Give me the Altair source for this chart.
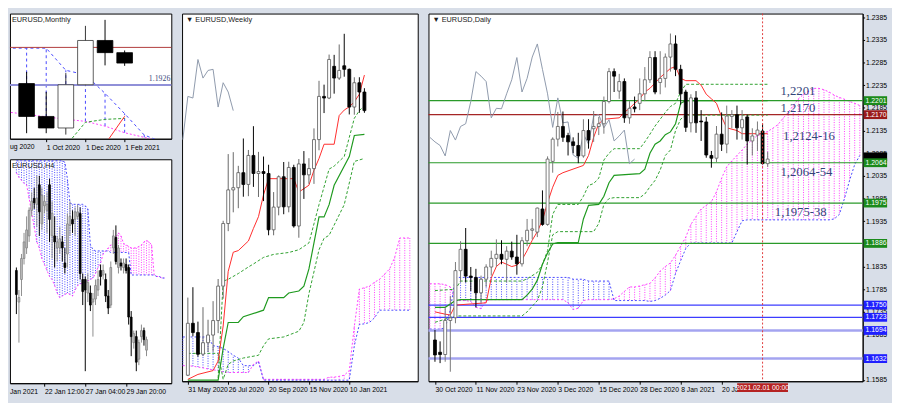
import json
import numpy as np
import pandas as pd
import altair as alt

FONT = "Liberation Sans"
SERIF = "Liberation Serif"
PINK = "#ff3cff"
BLUE = "#4646ff"
RED = "#ff2a2a"
GREEN = "#1f9a1f"
DGREEN = "#2ea02e"
CHIKOU = "#8d99ab"

# ---------------- DAILY (30 Oct 2020 = 0 ... 2 Feb 2021 = 65) ----------------
d_open = [1.1673, 1.1646, 1.1641, 1.1716, 1.1722, 1.1826, 1.1873, 1.1814, 1.1811, 1.1777,
          1.1807, 1.1834, 1.1853, 1.1862, 1.1851, 1.1869, 1.1856, 1.1841, 1.1892, 1.1915,
          1.1911, 1.1962, 1.1928, 1.2067, 1.2116, 1.2144, 1.2124, 1.2110, 1.2102, 1.2079,
          1.2135, 1.2139, 1.2144, 1.2150, 1.2199, 1.2265, 1.2222, 1.2243, 1.2163, 1.2187,
          1.2195, 1.2216, 1.2247, 1.2296, 1.2241, 1.2250, 1.2297, 1.2326, 1.2270, 1.2220,
          1.2152, 1.2207, 1.2156, 1.2154, 1.2080, 1.2074, 1.2127, 1.2105, 1.2166, 1.2170,
          1.2141, 1.2165, 1.2112, 1.2125, 1.2134, 1.2062]
d_high = [1.1695, 1.1670, 1.1745, 1.1770, 1.1845, 1.1891, 1.1920, 1.1834, 1.1830, 1.1815,
          1.1840, 1.1870, 1.1895, 1.1893, 1.1880, 1.1890, 1.1905, 1.1900, 1.1940, 1.1940,
          1.1965, 1.2003, 1.2078, 1.2120, 1.2176, 1.2177, 1.2130, 1.2120, 1.2130, 1.2160,
          1.2160, 1.2178, 1.2165, 1.2210, 1.2273, 1.2272, 1.2260, 1.2250, 1.2200, 1.2210,
          1.2250, 1.2275, 1.2310, 1.2310, 1.2310, 1.2305, 1.2349, 1.2345, 1.2280, 1.2225,
          1.2215, 1.2222, 1.2180, 1.2165, 1.2090, 1.2145, 1.2175, 1.2190, 1.2180, 1.2190,
          1.2180, 1.2170, 1.2140, 1.2155, 1.2150, 1.2088]
d_low = [1.1625, 1.1622, 1.1625, 1.1603, 1.1710, 1.1800, 1.1800, 1.1781, 1.1745, 1.1755,
         1.1790, 1.1815, 1.1835, 1.1840, 1.1800, 1.1850, 1.1817, 1.1835, 1.1880, 1.1895,
         1.1900, 1.1925, 1.1925, 1.2042, 1.2100, 1.2110, 1.2080, 1.2085, 1.2063, 1.2075,
         1.2095, 1.2110, 1.2125, 1.2128, 1.2195, 1.2220, 1.2205, 1.2152, 1.2150, 1.2175,
         1.2180, 1.2200, 1.2240, 1.2215, 1.2215, 1.2230, 1.2265, 1.2255, 1.2192, 1.2132,
         1.2131, 1.2130, 1.2112, 1.2075, 1.2053, 1.2065, 1.2090, 1.2085, 1.2140, 1.2115,
         1.2115, 1.2060, 1.2080, 1.2090, 1.2060, 1.2055]
d_close = [1.1640, 1.1641, 1.1716, 1.1722, 1.1826, 1.1873, 1.1814, 1.1811, 1.1777, 1.1807,
           1.1834, 1.1853, 1.1862, 1.1851, 1.1869, 1.1856, 1.1841, 1.1892, 1.1915, 1.1918,
           1.1964, 1.1928, 1.2072, 1.2116, 1.2144, 1.2120, 1.2110, 1.2102, 1.2079, 1.2135,
           1.2114, 1.2144, 1.2150, 1.2199, 1.2265, 1.2255, 1.2243, 1.2163, 1.2184, 1.2183,
           1.2216, 1.2247, 1.2296, 1.2220, 1.2250, 1.2297, 1.2326, 1.2270, 1.2216, 1.2142,
           1.2207, 1.2152, 1.2154, 1.2081, 1.2074, 1.2127, 1.2105, 1.2167, 1.2170, 1.2141,
           1.2159, 1.2112, 1.2123, 1.2136, 1.2062, 1.2072]
d_tick_idx = [0, 8, 16, 24, 32, 40, 48, 56]
d_tick_lbl = ["30 Oct 2020", "11 Nov 2020", "23 Nov 2020", "3 Dec 2020", "15 Dec 2020",
              "28 Dec 2020", "8 Jan 2021", "20 Jan 2021"]
d_price_ticks = [1.1585, 1.1685, 1.1735, 1.1785, 1.1835, 1.1935, 1.1985,
                 1.2035, 1.2085, 1.2135, 1.2185, 1.2235, 1.2285, 1.2335, 1.2385]
d_tenkan_i = [0, 2, 3, 4, 10, 11, 12, 13, 15, 16, 17, 18, 19, 20, 21, 22, 23, 24, 25, 29,
              30, 31, 32, 33, 36, 37, 38, 39, 40, 41, 42, 43, 44, 45, 46, 47, 48, 49, 51, 52,
              53, 54, 55, 56, 57, 59, 60, 65]
d_tenkan_v = [1.1735, 1.1730, 1.1728, 1.1750, 1.1755, 1.1810, 1.1835, 1.1845, 1.1835, 1.1838,
              1.1850, 1.1870, 1.1893, 1.1912, 1.1937, 1.1976, 1.2010, 1.2036, 1.2042, 1.2058,
              1.2080, 1.2120, 1.2150, 1.2160, 1.2163, 1.2175, 1.2184, 1.2195, 1.2205, 1.2220,
              1.2228, 1.2240, 1.2252, 1.2262, 1.2272, 1.2276, 1.2250, 1.2245, 1.2245, 1.2235,
              1.2215, 1.2205, 1.2195, 1.2165, 1.2141, 1.2135, 1.2128, 1.2128]
d_kijun_i = [0, 2, 4, 5, 17, 18, 19, 20, 21, 22, 23, 24, 28, 29, 30, 32, 33, 34, 35, 40,
             41, 42, 43, 44, 45, 46, 47, 48, 49, 65]
d_kijun_v = [1.1745, 1.1745, 1.1760, 1.1762, 1.1762, 1.1772, 1.1785, 1.1805, 1.1840, 1.1865,
             1.1885, 1.1888, 1.1888, 1.1940, 1.1970, 1.1972, 1.1990, 1.2020, 1.2036, 1.2040,
             1.2050, 1.2085, 1.2105, 1.2112, 1.2126, 1.2132, 1.2150, 1.2195, 1.2201, 1.2201]
d_dash1_i = [0, 4, 5, 17, 18, 20, 21, 22, 23, 24, 28, 29, 30, 31, 32, 33, 34, 35, 40, 41,
             42, 43, 44, 45, 46, 47, 48, 49, 65]
d_dash1_v = [1.1782, 1.1785, 1.1803, 1.1803, 1.1808, 1.1822, 1.1840, 1.1870, 1.1950, 1.1972,
             1.1972, 1.1990, 1.2014, 1.2018, 1.2030, 1.2070, 1.2085, 1.2095, 1.2095, 1.2110,
             1.2127, 1.2145, 1.2160, 1.2175, 1.2188, 1.2195, 1.2220, 1.2237, 1.2237]
d_dash2_i = [0, 4, 17, 18, 20, 21, 22, 23, 24, 31, 32, 33, 34, 35, 40, 41, 42, 43, 44, 45,
             46, 47, 48, 49, 65]
d_dash2_v = [1.1712, 1.1726, 1.1726, 1.1735, 1.1760, 1.1790, 1.1845, 1.1905, 1.1912, 1.1912,
             1.1930, 1.1972, 1.1985, 1.1987, 1.1987, 1.1995, 1.2011, 1.2025, 1.2048, 1.2080,
             1.2092, 1.2135, 1.2160, 1.2169, 1.2169]
# cloud, one value per bar from index -1 to 83
d_span_a = [1.1797, 1.1797, 1.1797, 1.1795, 1.1790,
            1.1760, 1.1760, 1.1760, 1.1758, 1.1745, 1.1742, 1.1760,
            1.1762, 1.1762, 1.1762, 1.1762, 1.1762, 1.1762, 1.1762, 1.1762, 1.1762, 1.1762,
            1.1762, 1.1762, 1.1762, 1.1762, 1.1762,
            1.1755, 1.1740, 1.1743, 1.1760,
            1.1762, 1.1762, 1.1762, 1.1762, 1.1762,
            1.1764, 1.1770, 1.1780, 1.1790, 1.1790, 1.1792, 1.1795, 1.1798, 1.1810,
            1.1825, 1.1835, 1.1843, 1.1860, 1.1880, 1.1900, 1.1928, 1.1945, 1.1962, 1.1970,
            1.1978, 1.2000, 1.2030, 1.2055, 1.2068, 1.2080, 1.2092, 1.2105, 1.2115, 1.2124,
            1.2128, 1.2133, 1.2140, 1.2148, 1.2162, 1.2175, 1.2190, 1.2205, 1.2215, 1.2222,
            1.2228, 1.2228, 1.2225, 1.2220, 1.2213, 1.2208, 1.2204, 1.2199, 1.2195, 1.2190]
d_span_b = [1.1697, 1.1697, 1.1697, 1.1700, 1.1740,
            1.1811, 1.1811, 1.1811, 1.1811, 1.1811, 1.1811, 1.1811,
            1.1811, 1.1811, 1.1811, 1.1811, 1.1811, 1.1811, 1.1811, 1.1811, 1.1811, 1.1811,
            1.1811, 1.1811, 1.1811, 1.1811, 1.1811,
            1.1811, 1.1807, 1.1807, 1.1807,
            1.1803, 1.1803, 1.1803, 1.1803, 1.1803,
            1.1760, 1.1760, 1.1760, 1.1760, 1.1760, 1.1760, 1.1760, 1.1758, 1.1760,
            1.1765, 1.1772, 1.1782, 1.1820, 1.1848, 1.1875, 1.1887, 1.1887, 1.1887, 1.1887,
            1.1887, 1.1887, 1.1887, 1.1887, 1.1887, 1.1912, 1.1936, 1.1938, 1.1938, 1.1938,
            1.1938, 1.1938, 1.1938, 1.1938, 1.1938, 1.1938, 1.1938, 1.1938, 1.1938, 1.1938,
            1.1938, 1.1938, 1.1938, 1.1938, 1.1940, 1.1950, 1.1985, 1.2025, 1.2060, 1.2080]
d_green_levels = [1.2201, 1.2064, 1.1975, 1.1886]
d_red_levels = [1.2170]
d_blue_levels = [1.1750, 1.1723]
d_lav_levels = [1.1694, 1.1632]
d_price_now = [1.2077]
d_cursor_idx = 64
d_cursor_lbl = "2021.02.01 00:00"
d_note_txt = ["1,2201", "1,2170", "1,2124-16", "1,2064-54", "1,1975-38"]
d_note_i = [67.5, 67.5, 68.0, 67.5, 66.4]
d_note_v = [1.2222, 1.2184, 1.2122, 1.2044, 1.1955]

# ---------------- WEEKLY (31 May 2020 = 0 ... 31 Jan 2021 = 35) ----------------
w_open = [1.1100, 1.1290, 1.1256, 1.1177, 1.1219, 1.1247, 1.1300, 1.1426, 1.1655, 1.1778,
          1.1786, 1.1841, 1.1798, 1.1904, 1.1838, 1.1845, 1.1838, 1.1632, 1.1715, 1.1826,
          1.1716, 1.1860, 1.1646, 1.1873, 1.1833, 1.1856, 1.1962, 1.2120, 1.2114, 1.2230,
          1.2187, 1.2232, 1.2219, 1.2081, 1.2170, 1.2136]
w_high = [1.1384, 1.1422, 1.1296, 1.1349, 1.1303, 1.1371, 1.1452, 1.1665, 1.1909, 1.1916,
          1.1866, 1.1966, 1.1924, 1.2011, 1.1917, 1.1900, 1.1870, 1.1770, 1.1831, 1.1880,
          1.1881, 1.1870, 1.1891, 1.1920, 1.1894, 1.2003, 1.2177, 1.2163, 1.2273, 1.2272,
          1.2310, 1.2349, 1.2222, 1.2190, 1.2190, 1.2150]
w_low = [1.1097, 1.1242, 1.1168, 1.1170, 1.1185, 1.1186, 1.1254, 1.1380, 1.1627, 1.1696,
         1.1711, 1.1753, 1.1755, 1.1789, 1.1752, 1.1737, 1.1612, 1.1612, 1.1685, 1.1689,
         1.1696, 1.1640, 1.1603, 1.1745, 1.1800, 1.1800, 1.1923, 1.2059, 1.2110, 1.2130,
         1.2180, 1.2192, 1.2054, 1.2053, 1.2060, 1.2060]
w_close = [1.1290, 1.1256, 1.1177, 1.1219, 1.1247, 1.1300, 1.1426, 1.1655, 1.1778, 1.1786,
           1.1841, 1.1798, 1.1904, 1.1838, 1.1845, 1.1838, 1.1632, 1.1715, 1.1826, 1.1716,
           1.1860, 1.1646, 1.1873, 1.1833, 1.1856, 1.1962, 1.2120, 1.2114, 1.2255, 1.2187,
           1.2215, 1.2219, 1.2081, 1.2170, 1.2136, 1.2068]
w_tick_idx = [0, 8, 16, 24, 32]
w_tick_lbl = ["31 May 2020", "26 Jul 2020", "20 Sep 2020", "15 Nov 2020", "10 Jan 2021"]
w_tenkan_i = [0, 2, 5, 6, 7, 8, 9, 10, 12, 13, 14, 15, 16, 21, 22, 24, 25, 26, 27, 29,
              30, 31, 32, 33, 34, 35]
w_tenkan_v = [1.1085, 1.1103, 1.1117, 1.1152, 1.1280, 1.1480, 1.1550, 1.1556, 1.1591, 1.1637,
              1.1680, 1.1760, 1.1819, 1.1819, 1.1770, 1.1795, 1.1850, 1.1893, 1.1945, 1.1945,
              1.2050, 1.2070, 1.2082, 1.2100, 1.2128, 1.2198]
w_kijun_i = [0, 6, 7, 8, 10, 11, 15, 16, 19, 20, 22, 23, 24, 25, 26, 27, 28, 29, 32, 33, 35]
w_kijun_v = [1.1082, 1.1082, 1.1198, 1.1293, 1.1293, 1.1314, 1.1338, 1.1384, 1.1384, 1.1401,
             1.1408, 1.1426, 1.1489, 1.1584, 1.1679, 1.1679, 1.1724, 1.1795, 1.1900, 1.1977,
             1.1981]
w_dash1_i = [6, 7, 8, 10, 12, 13, 15, 17, 20, 22, 24, 25, 26, 28, 29, 31, 32, 33, 34, 35]
w_dash1_v = [1.1090, 1.1444, 1.1451, 1.1472, 1.1496, 1.1507, 1.1531, 1.1542, 1.1549, 1.1559,
             1.1584, 1.1654, 1.1724, 1.1854, 1.1865, 1.1900, 1.1970, 1.2040, 1.2068, 1.2086]
w_dash2_i = [0, 6, 7, 8, 9, 11, 14, 15, 16, 19, 22, 23, 24, 26, 27, 28, 31, 33, 35]
w_dash2_v = [1.1180, 1.1180, 1.1085, 1.1140, 1.1152, 1.1163, 1.1173, 1.1208, 1.1233, 1.1240,
             1.1261, 1.1293, 1.1398, 1.1559, 1.1601, 1.1612, 1.1724, 1.1882, 1.1893]
# cloud, one value per bar from index -1 to 44
w_span_a = [1.1135, 1.1135, 1.1133, 1.1130, 1.1127, 1.1123, 1.1120, 1.1117, 1.1112, 1.1110,
            1.1110, 1.1110, 1.1110, 1.1110, 1.1140, 1.1152, 1.1085, 1.1085, 1.1085, 1.1085,
            1.1085, 1.1085, 1.1085, 1.1085, 1.1085, 1.1085, 1.1085, 1.1085, 1.1085, 1.1093,
            1.1093, 1.1096, 1.1100, 1.1117, 1.1279, 1.1415, 1.1420, 1.1426, 1.1440, 1.1451,
            1.1470, 1.1489, 1.1531, 1.1602, 1.1602, 1.1602]
w_span_b = [1.1240, 1.1240, 1.1240, 1.1240, 1.1240, 1.1240, 1.1208, 1.1205, 1.1198, 1.1187,
            1.1173, 1.1163, 1.1135, 1.1135, 1.1135, 1.1150, 1.1082, 1.1082, 1.1082, 1.1082,
            1.1082, 1.1082, 1.1082, 1.1082, 1.1082, 1.1082, 1.1082, 1.1082, 1.1082, 1.1082,
            1.1082, 1.1082, 1.1082, 1.1082, 1.1208, 1.1286, 1.1288, 1.1293, 1.1310, 1.1338,
            1.1338, 1.1338, 1.1338, 1.1338, 1.1338, 1.1338]

# ---------------- MONTHLY (Sep 2020 = 0 ... Feb 2021 = 5) ----------------
m_open = [1.1935, 1.1721, 1.1646, 1.1927, 1.2215, 1.2136]
m_high = [1.2011, 1.1881, 1.2003, 1.2310, 1.2349, 1.2150]
m_low = [1.1612, 1.1612, 1.1603, 1.1923, 1.2053, 1.2050]
m_close = [1.1721, 1.1646, 1.1927, 1.2215, 1.2136, 1.2068]
m_tick_idx = [1, 3, 5]
m_tick_lbl = ["1 Oct 2020", "1 Dec 2020", "1 Feb 2021"]
m_span_a = [1.1750, 1.1735, 1.1718, 1.1703, 1.1689, 1.1658, 1.1615, 1.1585, 1.1550]  # -1..7
m_span_b = [1.2165, 1.2165, 1.2165, 1.2021, 1.1992, 1.1871, 1.1739, 1.1600, 1.1550]  # -1..7
m_dash_i = [2, 3, 4, 5]
m_dash_v = [1.1530, 1.1683, 1.1702, 1.1708]
m_tenkan_i = [4, 5]
m_tenkan_v = [1.1540, 1.1722]
m_red_level = [1.2170]
m_slate_level = [1.1926]

# ---------------- H4 (bars 0 ... 51, cloud to 58) ----------------
h_open = [1.2125, 1.2104, 1.2119, 1.2133, 1.2140, 1.2148, 1.2165, 1.2173, 1.2169, 1.2182,
          1.2156, 1.2168, 1.2165, 1.2182, 1.2148, 1.2148, 1.2140, 1.2140, 1.2144, 1.2130,
          1.2136, 1.2155, 1.2159, 1.2159, 1.2161, 1.2163, 1.2119, 1.2119, 1.2110, 1.2110,
          1.2104, 1.2106, 1.2112, 1.2125, 1.2122, 1.2119, 1.2108, 1.2102, 1.2140, 1.2147,
          1.2127, 1.2130, 1.2127, 1.2129, 1.2127, 1.2094, 1.2077, 1.2081, 1.2066, 1.2081,
          1.2085, 1.2072]
h_high = [1.2127, 1.2112, 1.2136, 1.2150, 1.2161, 1.2167, 1.2177, 1.2180, 1.2188, 1.2188,
          1.2180, 1.2175, 1.2177, 1.2186, 1.2171, 1.2161, 1.2148, 1.2154, 1.2148, 1.2140,
          1.2163, 1.2171, 1.2165, 1.2167, 1.2169, 1.2167, 1.2123, 1.2121, 1.2123, 1.2115,
          1.2110, 1.2119, 1.2125, 1.2129, 1.2129, 1.2123, 1.2112, 1.2131, 1.2152, 1.2155,
          1.2142, 1.2133, 1.2133, 1.2133, 1.2129, 1.2098, 1.2085, 1.2085, 1.2079, 1.2089,
          1.2087, 1.2081]
h_low = [1.2096, 1.2077, 1.2108, 1.2129, 1.2136, 1.2144, 1.2161, 1.2166, 1.2154, 1.2148,
         1.2152, 1.2163, 1.2150, 1.2144, 1.2133, 1.2127, 1.2131, 1.2136, 1.2131, 1.2123,
         1.2127, 1.2148, 1.2150, 1.2148, 1.2159, 1.2119, 1.2102, 1.2058, 1.2104, 1.2098,
         1.2081, 1.2102, 1.2108, 1.2115, 1.2119, 1.2104, 1.2096, 1.2100, 1.2136, 1.2129,
         1.2123, 1.2125, 1.2123, 1.2123, 1.2089, 1.2068, 1.2073, 1.2058, 1.2062, 1.2077,
         1.2075, 1.2068]
h_close = [1.2109, 1.2107, 1.2133, 1.2144, 1.2152, 1.2165, 1.2171, 1.2170, 1.2173, 1.2164,
           1.2175, 1.2171, 1.2169, 1.2159, 1.2163, 1.2144, 1.2144, 1.2146, 1.2140, 1.2127,
           1.2156, 1.2161, 1.2156, 1.2164, 1.2164, 1.2123, 1.2111, 1.2112, 1.2117, 1.2102,
           1.2106, 1.2115, 1.2119, 1.2121, 1.2125, 1.2108, 1.2100, 1.2127, 1.2148, 1.2131,
           1.2140, 1.2128, 1.2130, 1.2125, 1.2094, 1.2081, 1.2083, 1.2064, 1.2077, 1.2085,
           1.2079, 1.2079]
h_tick_idx = [11, 27, 43]
h_tick_lbl = ["22 Jan 12:00", "27 Jan 04:00", "29 Jan 20:00"]
h_span_a = [1.2190, 1.2187, 1.2185, 1.2183, 1.2182, 1.2173, 1.2163, 1.2154, 1.2144, 1.2140,
            1.2133, 1.2129, 1.2125, 1.2121, 1.2119, 1.2115, 1.2110, 1.2107, 1.2108, 1.2109,
            1.2110, 1.2109, 1.2108, 1.2112, 1.2115, 1.2116, 1.2117, 1.2117, 1.2118, 1.2119,
            1.2120, 1.2123, 1.2127, 1.2130, 1.2136, 1.2138, 1.2140, 1.2142, 1.2144, 1.2147,
            1.2150, 1.2148, 1.2143, 1.2142, 1.2141, 1.2140, 1.2140, 1.2140, 1.2141, 1.2142,
            1.2144, 1.2145, 1.2144, 1.2142, 1.2122, 1.2121, 1.2121, 1.2120, 1.2120]
h_span_b = [1.2198, 1.2198, 1.2198, 1.2198, 1.2198, 1.2198, 1.2198, 1.2198, 1.2198, 1.2198,
            1.2198, 1.2198, 1.2198, 1.2198, 1.2198, 1.2198, 1.2198, 1.2198, 1.2198, 1.2197,
            1.2186, 1.2170, 1.2169, 1.2169, 1.2169, 1.2169, 1.2169, 1.2168, 1.2166, 1.2142,
            1.2139, 1.2138, 1.2138, 1.2138, 1.2138, 1.2138, 1.2138, 1.2137, 1.2137, 1.2137,
            1.2137, 1.2137, 1.2137, 1.2137, 1.2137, 1.2122, 1.2122, 1.2122, 1.2122, 1.2122,
            1.2122, 1.2122, 1.2122, 1.2122, 1.2122, 1.2121, 1.2121, 1.2120, 1.2120]

# ---------------- layout ----------------
W1, HM, HH = 165, 128, 229
W2, W3, H = 241, 444, 376


def xaxis(vals, labels):
    expr = f"{json.dumps(labels)}[indexof({json.dumps(vals)}, datum.value)]"
    return alt.Axis(values=vals, labelExpr=expr, title=None, labelAlign="left",
                    labelBaseline="top", labelPadding=2, tickSize=3, labelFlush=False,
                    labelOverlap=False, grid=False)


def scales(xdom, ydom, xax, yax=None):
    def X(f):
        return alt.X(f"{f}:Q", scale=alt.Scale(domain=xdom, nice=False, zero=False), axis=xax)

    def Y(f):
        return alt.Y(f"{f}:Q", scale=alt.Scale(domain=ydom, nice=False, zero=False), axis=yax)
    return X, Y


def candles(o, h, l, c, X, Y, size, bull_fill, bull_stroke, bull_wick):
    df = pd.DataFrame({"i": np.arange(len(o)), "o": o, "h": h, "l": l, "c": c})
    up = df["c"] >= df["o"]
    df["fc"] = np.where(up, bull_fill, "#000000")
    df["sc"] = np.where(up, bull_stroke, "#000000")
    df["wc"] = np.where(up, bull_wick, "#000000")
    wick = alt.Chart(df).mark_rule(strokeWidth=1, clip=True).encode(
        x=X("i"), y=Y("l"), y2=alt.Y2("h"), color=alt.Color("wc:N", scale=None))
    body = alt.Chart(df).mark_bar(size=size, orient="vertical", strokeWidth=0.8, clip=True).encode(
        x=X("i"), y=Y("o"), y2=alt.Y2("c"),
        fill=alt.Fill("fc:N", scale=None), stroke=alt.Stroke("sc:N", scale=None))
    return [wick, body]


def cloud(start, a, b, X, Y, hatch_dash, edge_dash_a, edge_dash_b):
    df = pd.DataFrame({"i": np.arange(start, start + len(a)), "a": a, "b": b})
    df["hc"] = np.where(df["a"] >= df["b"], PINK, BLUE)
    hatch = alt.Chart(df).mark_rule(strokeWidth=1, strokeDash=hatch_dash, clip=True).encode(
        x=X("i"), y=Y("a"), y2=alt.Y2("b"), color=alt.Color("hc:N", scale=None))
    la = alt.Chart(df).mark_line(color=PINK, strokeWidth=1, strokeDash=edge_dash_a, clip=True).encode(
        x=X("i"), y=Y("a"))
    lb = alt.Chart(df).mark_line(color=BLUE, strokeWidth=1, strokeDash=edge_dash_b, clip=True).encode(
        x=X("i"), y=Y("b"))
    return [hatch, la, lb]


def line(i, v, X, Y, color, width=1.0, dash=None):
    df = pd.DataFrame({"i": i, "v": v})
    props = dict(color=color, strokeWidth=width, clip=True)
    if dash is not None:
        props["strokeDash"] = dash
    return alt.Chart(df).mark_line(**props).encode(x=X("i"), y=Y("v"))


def hrules(vals, Y, color, width):
    return alt.Chart(pd.DataFrame({"v": vals})).mark_rule(color=color, strokeWidth=width).encode(y=Y("v"))


def note(text, x, y, size=7.5, color="#1a1a1a", align="left", font=FONT, baseline="middle"):
    return alt.Chart(pd.DataFrame({"t": [text]})).mark_text(
        align=align, baseline=baseline, font=font, fontSize=size, color=color).encode(
        x=alt.value(x), y=alt.value(y), text="t:N")


def axis_boxes(vals, Y, W, color, with_text=True):
    df = pd.DataFrame({"v": vals, "t": [f"{v:.4f}" for v in vals]})
    box = alt.Chart(df).mark_rule(color=color, strokeWidth=9).encode(
        x=alt.value(W + 1), x2=alt.value(W + 25), y=Y("v"))
    if not with_text:
        return [box]
    txt = alt.Chart(df).mark_text(align="left", baseline="middle", font=FONT, fontSize=7,
                                  color="white").encode(x=alt.value(W + 3), y=Y("v"), text="t:N")
    return [box, txt]


# ---------------- MONTHLY panel ----------------
Xm, Ym = scales([-0.6, 7.13], [1.1576, 1.2390], xaxis(m_tick_idx, m_tick_lbl))
m_layers = []
m_layers += cloud(-1, m_span_a, m_span_b, Xm, Ym, [3, 3], [2, 2], [3, 3])
m_layers.append(hrules(m_red_level, Ym, "#b03a3a", 1))
m_layers.append(hrules(m_slate_level, Ym, "#9090d8", 2))
m_layers.append(line(m_dash_i, m_dash_v, Xm, Ym, DGREEN, 1, [3, 2]))
m_layers.append(line(m_tenkan_i, m_tenkan_v, Xm, Ym, RED, 1))
m_layers += candles(m_open, m_high, m_low, m_close, Xm, Ym, 16, "#ffffff", "#333333", "#333333")
m_layers.append(alt.Chart(pd.DataFrame({"v": m_slate_level, "t": ["1.1926"]})).mark_text(
    align="right", baseline="bottom", font=SERIF, fontSize=8, color="#3b4a7d", dy=-2).encode(
    x=alt.value(W1 - 1), y=Ym("v"), text="t:N"))
m_layers.append(note("EURUSD,Monthly", 2, 7))
m_layers.append(note("ug 2020", 0, HM + 5, size=7, color="#000", baseline="top"))
monthly = alt.layer(*m_layers).properties(width=W1, height=HM)

# ---------------- H4 panel ----------------
Xh, Yh = scales([-0.6, 58.8], [1.2050, 1.2199], xaxis(h_tick_idx, h_tick_lbl))
h_layers = []
h_layers += cloud(0, h_span_a, h_span_b, Xh, Yh, [1, 1.5], [2, 2], [2, 2])
h_layers += candles(h_open, h_high, h_low, h_close, Xh, Yh, 1.8, "#c4c4c4", "#808080", "#8c8c8c")
h_layers.append(note("EURUSD,H4", 2, 7))
h_layers.append(note("Jan 2021", 0, HH + 5, size=7, color="#000", baseline="top"))
h4 = alt.layer(*h_layers).properties(width=W1, height=HH)

# ---------------- WEEKLY panel ----------------
Xw, Yw = scales([-0.18, 44.6], [1.1078, 1.2423], xaxis(w_tick_idx, w_tick_lbl))
w_layers = []
w_layers += cloud(-1, w_span_a, w_span_b, Xw, Yw, [1, 1.5], [2, 2], [2, 2])
w_layers.append(line(w_dash1_i, w_dash1_v, Xw, Yw, DGREEN, 1, [3, 2]))
w_layers.append(line(w_dash2_i, w_dash2_v, Xw, Yw, DGREEN, 1, [3, 2]))
w_layers.append(line(w_kijun_i, w_kijun_v, Xw, Yw, GREEN, 1.2))
w_layers.append(line(w_tenkan_i, w_tenkan_v, Xw, Yw, RED, 1))
w_layers.append(line(list(range(-1, len(w_close) - 26)), w_close[25:], Xw, Yw, CHIKOU, 1))
w_layers += candles(w_open, w_high, w_low, w_close, Xw, Yw, 3, "#ffffff", "#555555", "#666666")
w_layers.append(note("\u25bc EURUSD,Weekly", 4, 7))
weekly = alt.layer(*w_layers).properties(width=W2, height=H)

# ---------------- DAILY panel ----------------
d_yaxis = alt.Axis(orient="right", values=d_price_ticks, format=".4f", title=None,
                   labelAlign="left", labelBaseline="middle", tickSize=2, labelPadding=1,
                   labelOverlap=False, labelFlush=False, grid=False)
Xd, Yd = scales([-0.31, 82.6], [1.1582, 1.2393], xaxis(d_tick_idx, d_tick_lbl), d_yaxis)
d_layers = []
d_layers += cloud(-1, d_span_a, d_span_b, Xd, Yd, [1, 1.5], [2, 2], [2, 2])
d_layers.append(hrules(d_lav_levels, Yd, "#a4a4f0", 2.5))
d_layers.append(hrules(d_blue_levels, Yd, "#3c3cff", 1.2))
d_layers.append(hrules(d_green_levels, Yd, "#2a9a2a", 1.2))
d_layers.append(hrules(d_red_levels, Yd, "#a52525", 1.2))
d_layers.append(line(d_dash1_i, d_dash1_v, Xd, Yd, DGREEN, 1, [3, 2]))
d_layers.append(line(d_dash2_i, d_dash2_v, Xd, Yd, DGREEN, 1, [3, 2]))
d_layers.append(line(d_kijun_i, d_kijun_v, Xd, Yd, GREEN, 1.2))
d_layers.append(line(d_tenkan_i, d_tenkan_v, Xd, Yd, RED, 1))
d_layers.append(line(list(range(-1, len(d_close) - 26)), d_close[25:], Xd, Yd, CHIKOU, 1))
d_layers += candles(d_open, d_high, d_low, d_close, Xd, Yd, 3, "#ffffff", "#5a5a5a", "#777777")

cur = pd.DataFrame({"i": [d_cursor_idx], "t": [d_cursor_lbl]})
d_layers.append(alt.Chart(cur).mark_rule(color="#e03a3a", strokeDash=[2, 2], strokeWidth=1).encode(x=Xd("i")))
d_layers.append(alt.Chart(cur).mark_rule(color="#b52222", strokeWidth=52).encode(
    x=Xd("i"), y=alt.value(H + 2), y2=alt.value(H + 11)))
d_layers.append(alt.Chart(cur).mark_text(font=FONT, fontSize=7, color="white", align="center",
                                         baseline="middle").encode(
    x=Xd("i"), y=alt.value(H + 6.5), text="t:N"))

notes = pd.DataFrame({"i": d_note_i, "v": d_note_v, "t": d_note_txt})
d_layers.append(alt.Chart(notes).mark_text(align="left", baseline="middle", font=SERIF,
                                           fontSize=13, color="#33457a").encode(
    x=Xd("i"), y=Yd("v"), text="t:N"))

d_layers += axis_boxes(d_price_now, Yd, W3, "#000000", with_text=False)
d_layers += axis_boxes(d_green_levels, Yd, W3, "#1b8a1b")
d_layers += axis_boxes(d_red_levels, Yd, W3, "#9a1a1a")
d_layers += axis_boxes(d_blue_levels + d_lav_levels, Yd, W3, "#1f1fff")
d_layers.append(note("\u25bc EURUSD,Daily", 4, 7))
daily = alt.layer(*d_layers).properties(width=W3, height=H)

col1 = alt.vconcat(monthly, h4, spacing=7)
chart = alt.hconcat(col1, weekly, daily, spacing=8).properties(
    padding=0, background="#d8dee8"
).configure_view(
    stroke="#000000", strokeWidth=1, fill="#ffffff"
).configure_axis(
    labelFont=FONT, labelFontSize=7, labelColor="#000000", tickColor="#000000",
    domainColor="#000000", grid=False
)

chart.save("out.html", embed_options={"renderer": "svg", "actions": False})
